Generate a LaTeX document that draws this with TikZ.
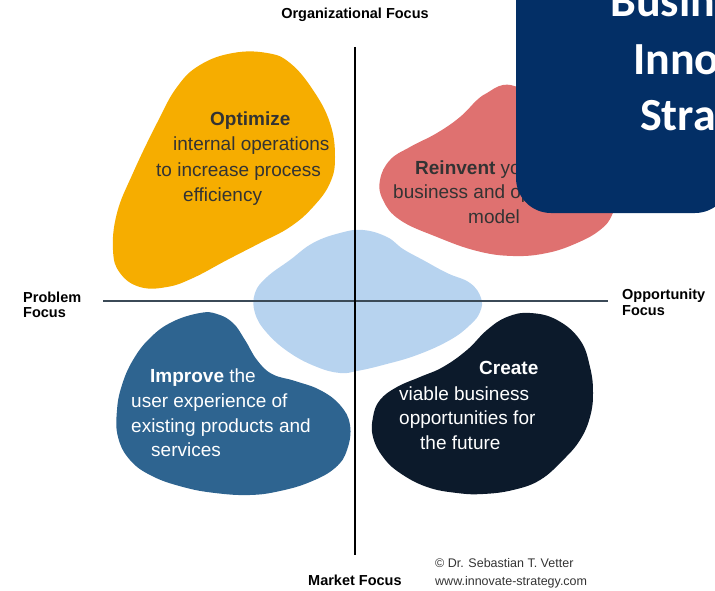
\documentclass[tikz,border=0pt]{standalone}
\usepackage{fontspec}
\setmainfont{Liberation Sans}
\newfontfamily\titlefont{Carlito}
\definecolor{yblob}{HTML}{F6AD00}
\definecolor{rblob}{HTML}{DF7170}
\definecolor{lblob}{HTML}{B7D3EF}
\definecolor{iblob}{HTML}{2E6490}
\definecolor{cblob}{HTML}{0C1A2B}
\definecolor{navybox}{HTML}{032F66}
\definecolor{haxis}{HTML}{3B4A57}
\definecolor{darktext}{HTML}{333333}
\tikzset{
  blobtext/.style={anchor=base west, inner sep=0pt, font=\fontsize{19}{23}\selectfont},
  axislabel/.style={inner sep=0pt, font=\fontsize{14.5}{15}\selectfont\bfseries, align=left},
  credit/.style={anchor=base west, inner sep=0pt, font=\fontsize{12.5}{15}\selectfont, text=darktext},
  titletext/.style={anchor=base west, inner sep=0pt, text=white, font=\fontsize{46}{50}\selectfont\titlefont\bfseries},
}
\begin{document}
\begin{tikzpicture}[x=1pt,y=-1pt]
\useasboundingbox (0,0) rectangle (715,591);
% blobs
\fill[yblob] plot[smooth cycle, tension=0.7] coordinates {
 (200,65) (233,53) (267,53) (290,63) (313,90) (330,123) (335,157) (330,183)
 (313,207) (290,227) (260,243) (227,260) (193,278) (167,287) (140,287)
 (120,273) (113,250) (117,213) (133,173) (157,123) (177,87)};
\fill[rblob] plot[smooth cycle, tension=0.7] coordinates {
 (487,93) (503,85) (520,88) (545,100) (575,125) (600,160) (615,195) (612,215)
 (600,230) (577,243) (547,253) (513,256) (477,251) (437,237) (400,220)
 (383,200) (380,180) (390,160) (410,147) (437,133) (460,117) (477,100)};
\fill[lblob] plot[smooth cycle, tension=0.7] coordinates {
 (363,230) (387,237) (403,249) (423,260) (447,273) (470,283) (481,298)
 (480,312) (470,325) (450,340) (417,355) (383,365) (357,371) (340,373)
 (317,367) (290,353) (267,333) (255,313) (255,293) (267,277) (290,260)
 (313,243) (340,233)};
\fill[iblob] plot[smooth cycle, tension=0.7] coordinates {
 (200,313) (217,314) (233,323) (245,340) (257,360) (272,374) (295,381)
 (320,390) (340,405) (350,425) (347,450) (335,468) (310,482) (280,491)
 (250,495) (215,493) (183,487) (152,476) (130,460) (118,437) (117,410)
 (122,385) (133,360) (150,338) (172,322)};
\fill[cblob] plot[smooth cycle, tension=0.7] coordinates {
 (507,317) (530,313) (557,320) (580,340) (590,367) (593,393) (590,417)
 (580,440) (563,460) (540,480) (513,490) (483,494) (457,493) (427,487)
 (400,473) (383,457) (373,437) (373,417) (380,400) (397,387) (420,377)
 (443,367) (467,350) (487,330)};
% axes
\coordinate (vtop) at (355,47);
\coordinate (vbot) at (355,555);
\coordinate (hleft) at (103,301);
\coordinate (hright) at (608,301);
\draw[haxis, line width=2pt] (hleft) -- (hright);
\draw[black, line width=1.8pt] (vtop) -- (vbot);
% axis labels
\node[axislabel, anchor=base] (org) at (355,19) {Organizational Focus};
\node[axislabel, anchor=base west] (prob1) at (23,302) {Problem};
\node[axislabel, anchor=base west] (prob2) at (23,317) {Focus};
\node[axislabel, anchor=base west] (opp1) at (622,299) {Opportunity};
\node[axislabel, anchor=base west] (opp2) at (622,315) {Focus};
\node[axislabel, anchor=base west] (mkt) at (308,585) {Market Focus};
\node[credit] (cr1) at (435,567) {© Dr. Sebastian T. Vetter};
\node[credit] (cr2) at (435,585) {www.innovate-strategy.com};
% blob texts
\node[blobtext, text=darktext] (o1) at (210,126) {\bfseries Optimize};
\node[blobtext, text=darktext] (o2) at (173,151) {internal operations};
\node[blobtext, text=darktext] (o3) at (156,177) {to increase process};
\node[blobtext, text=darktext] (o4) at (183,201) {efficiency};
\node[blobtext, text=darktext] (r1) at (415,175) {\bfseries Reinvent\mdseries{} your};
\node[blobtext, text=darktext] (r2) at (393,198) {business and operating};
\node[blobtext, text=darktext] (r3) at (468,223) {model};
\node[blobtext, text=white] (i1) at (150,382) {\bfseries Improve\mdseries{} the};
\node[blobtext, text=white] (i2) at (131,407) {user experience of};
\node[blobtext, text=white] (i3) at (131,432) {existing products and};
\node[blobtext, text=white] (i4) at (151,456) {services};
\node[blobtext, text=white] (c1) at (479,374) {\bfseries Create};
\node[blobtext, text=white] (c2) at (399,400) {viable business};
\node[blobtext, text=white] (c3) at (399,424) {opportunities for};
\node[blobtext, text=white] (c4) at (420,449) {the future};
% title box
\begin{scope}
\clip (0,0) rectangle (715,591);
\fill[navybox] (730,-10) -- (516,-10) [rounded corners=35pt] -- (516,213) -- (730,213) -- cycle;
\node[titletext] (t1) at (610,17) {Business};
\node[titletext] (t2) at (633,75) {Innovation};
\node[titletext] (t3) at (640,131) {Strategy};
\end{scope}
\end{tikzpicture}
\end{document}
